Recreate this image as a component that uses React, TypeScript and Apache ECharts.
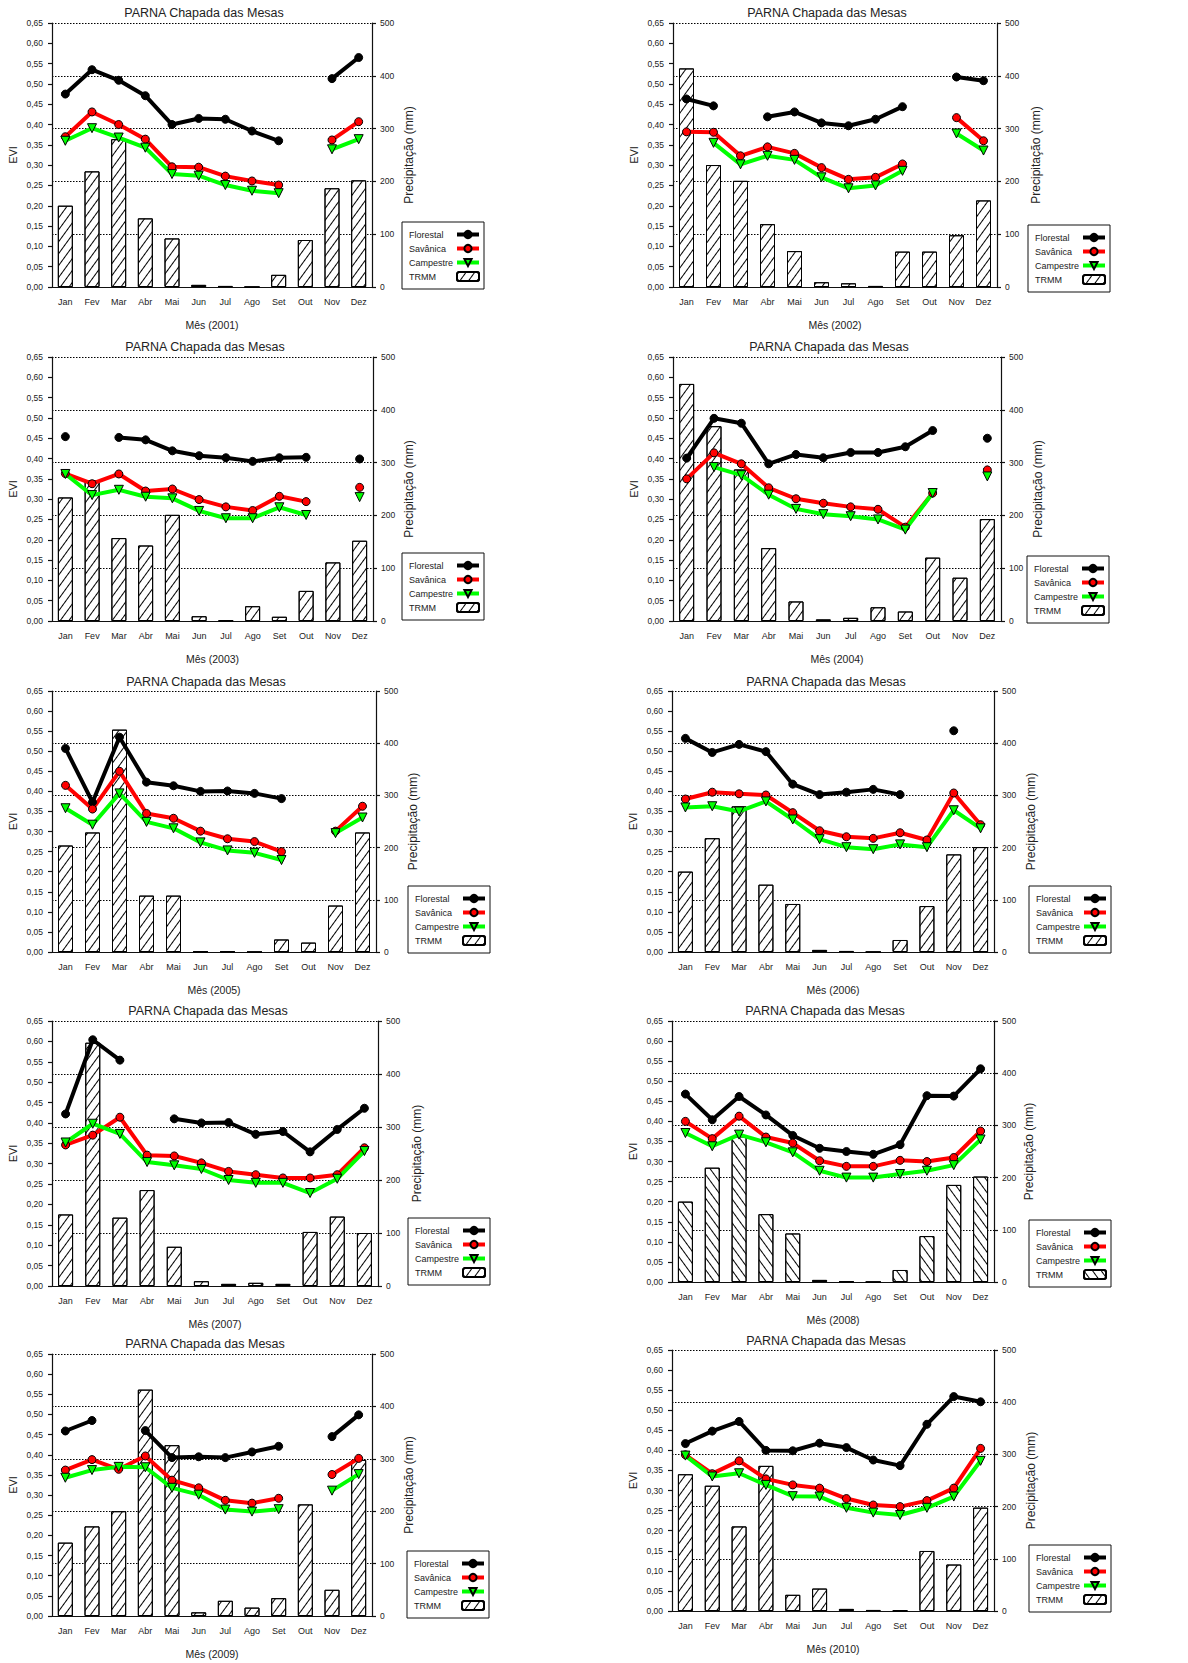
import React, { useEffect, useRef } from 'react';
import * as echarts from 'echarts';

const months = ['Jan', 'Fev', 'Mar', 'Abr', 'Mai', 'Jun', 'Jul', 'Ago', 'Set', 'Out', 'Nov', 'Dez'];
const seriesNames = ['Florestal', 'Savânica', 'Campestre', 'TRMM'];
const chartTitle = 'PARNA Chapada das Mesas';

const florestal2001 = [0.475, 0.535, 0.509, 0.471, 0.400, 0.415, 0.413, 0.384, 0.360, null, 0.513, 0.565];
const savanica2001 = [0.370, 0.431, 0.400, 0.364, 0.296, 0.295, 0.273, 0.261, 0.251, null, 0.362, 0.407];
const campestre2001 = [0.360, 0.391, 0.368, 0.343, 0.278, 0.274, 0.251, 0.237, 0.231, null, 0.339, 0.364];
const trmm2001 = [154, 219, 280, 130, 92, 4, 2, 0, 23, 89, 187, 202];

const florestal2002 = [0.463, 0.446, null, 0.419, 0.431, 0.404, 0.397, 0.413, 0.444, null, 0.517, 0.508];
const savanica2002 = [0.382, 0.381, 0.323, 0.345, 0.329, 0.294, 0.265, 0.270, 0.303, null, 0.417, 0.360];
const campestre2002 = [null, 0.355, 0.302, 0.323, 0.313, 0.270, 0.243, 0.250, 0.286, null, 0.378, 0.336];
const trmm2002 = [414, 231, 201, 119, 68, 9, 7, 2, 67, 67, 98, 164];

const florestal2003 = [0.454, null, 0.452, 0.446, 0.419, 0.407, 0.402, 0.393, 0.402, 0.403, null, 0.399];
const savanica2003 = [0.363, 0.338, 0.362, 0.320, 0.325, 0.299, 0.281, 0.272, 0.307, 0.294, null, 0.329];
const campestre2003 = [0.362, 0.310, 0.323, 0.306, 0.302, 0.271, 0.253, 0.253, 0.280, 0.261, null, 0.305];
const trmm2003 = [234, 267, 157, 143, 201, 9, 1, 28, 8, 57, 111, 152];

const florestal2004 = [0.401, 0.499, 0.487, 0.387, 0.410, 0.402, 0.415, 0.415, 0.429, 0.469, null, 0.450];
const savanica2004 = [0.350, 0.414, 0.387, 0.328, 0.301, 0.290, 0.281, 0.275, 0.231, 0.315, null, 0.372];
const campestre2004 = [null, 0.379, 0.359, 0.311, 0.276, 0.263, 0.258, 0.250, 0.225, 0.315, null, 0.356];
const trmm2004 = [449, 369, 287, 138, 37, 3, 6, 26, 18, 120, 82, 193];

const florestal2005 = [0.507, 0.373, 0.535, 0.423, 0.414, 0.400, 0.401, 0.395, 0.382, null, null, null];
const savanica2005 = [0.415, 0.356, 0.450, 0.345, 0.333, 0.301, 0.282, 0.275, 0.250, null, 0.301, 0.363];
const campestre2005 = [0.358, 0.317, 0.395, 0.324, 0.308, 0.273, 0.253, 0.247, 0.229, null, 0.296, 0.335];
const trmm2005 = [204, 229, 426, 108, 108, 1, 1, 0, 24, 18, 89, 229];

const florestal2006 = [0.532, 0.497, 0.517, 0.499, 0.418, 0.392, 0.398, 0.405, 0.392, null, 0.551, null];
const savanica2006 = [0.381, 0.398, 0.394, 0.391, 0.347, 0.302, 0.287, 0.283, 0.297, 0.279, 0.396, 0.317];
const campestre2006 = [0.360, 0.363, 0.350, 0.375, 0.330, 0.281, 0.261, 0.256, 0.268, 0.261, 0.353, 0.308];
const trmm2006 = [154, 218, 279, 129, 92, 4, 2, 0, 23, 88, 187, 201];

const florestal2007 = [0.422, 0.604, 0.554, null, 0.410, 0.400, 0.401, 0.372, 0.379, 0.329, 0.384, 0.436];
const savanica2007 = [0.346, 0.370, 0.414, 0.321, 0.319, 0.302, 0.281, 0.273, 0.265, 0.265, 0.273, 0.339];
const campestre2007 = [0.352, 0.398, 0.373, 0.304, 0.296, 0.287, 0.260, 0.253, 0.253, 0.228, 0.263, 0.331];
const trmm2007 = [135, 459, 129, 181, 74, 9, 4, 6, 4, 102, 131, 100];

const florestal2008 = [0.468, 0.404, 0.462, 0.416, 0.365, 0.333, 0.325, 0.318, 0.342, 0.464, 0.463, 0.531];
const savanica2008 = [0.400, 0.357, 0.413, 0.361, 0.346, 0.302, 0.288, 0.288, 0.303, 0.300, 0.310, 0.376];
const campestre2008 = [0.371, 0.338, 0.367, 0.348, 0.323, 0.277, 0.260, 0.260, 0.269, 0.277, 0.291, 0.355];
const trmm2008 = [154, 219, 279, 130, 93, 4, 1, 0, 23, 88, 186, 202];

const florestal2009 = [0.459, 0.485, null, 0.460, 0.393, 0.395, 0.393, 0.407, 0.421, null, 0.445, 0.499];
const savanica2009 = [0.362, 0.388, 0.364, 0.397, 0.337, 0.318, 0.287, 0.280, 0.292, null, 0.351, 0.391];
const campestre2009 = [0.343, 0.362, 0.370, 0.369, 0.318, 0.301, 0.264, 0.259, 0.265, null, 0.311, 0.352];
const trmm2009 = [140, 171, 200, 432, 326, 7, 29, 16, 34, 213, 50, 298];

const florestal2010 = [0.417, 0.448, 0.472, 0.400, 0.399, 0.418, 0.407, 0.376, 0.362, 0.465, 0.534, 0.521];
const savanica2010 = [0.389, 0.342, 0.374, 0.329, 0.314, 0.306, 0.280, 0.264, 0.260, 0.275, 0.306, 0.405];
const campestre2010 = [0.387, 0.335, 0.343, 0.314, 0.286, 0.285, 0.257, 0.245, 0.239, 0.257, 0.285, 0.374];
const trmm2010 = [262, 240, 162, 278, 31, 43, 4, 2, 1, 115, 89, 198];

const panels = [
  { year: '2001', f: florestal2001, s: savanica2001, c: campestre2001, t: trmm2001 },
  { year: '2002', f: florestal2002, s: savanica2002, c: campestre2002, t: trmm2002 },
  { year: '2003', f: florestal2003, s: savanica2003, c: campestre2003, t: trmm2003 },
  { year: '2004', f: florestal2004, s: savanica2004, c: campestre2004, t: trmm2004 },
  { year: '2005', f: florestal2005, s: savanica2005, c: campestre2005, t: trmm2005 },
  { year: '2006', f: florestal2006, s: savanica2006, c: campestre2006, t: trmm2006 },
  { year: '2007', f: florestal2007, s: savanica2007, c: campestre2007, t: trmm2007 },
  { year: '2008', f: florestal2008, s: savanica2008, c: campestre2008, t: trmm2008 },
  { year: '2009', f: florestal2009, s: savanica2009, c: campestre2009, t: trmm2009 },
  { year: '2010', f: florestal2010, s: savanica2010, c: campestre2010, t: trmm2010 },
];

// layout (pixels)
const layout = [
  { l: 52, r: 372, t: 23, b: 287, tx: 204, ty: 13, lgL: 402, lgT: 222, pg: 31, back: false },
  { l: 673, r: 997, t: 23, b: 287, tx: 827, ty: 13, lgL: 1028, lgT: 225, pg: 33, back: false },
  { l: 52, r: 373, t: 357, b: 621, tx: 205, ty: 347, lgL: 402, lgT: 553, pg: 30, back: false },
  { l: 673, r: 1001, t: 357, b: 621, tx: 829, ty: 347, lgL: 1027, lgT: 556, pg: 31, back: false },
  { l: 52, r: 376, t: 691, b: 952, tx: 206, ty: 682, lgL: 408, lgT: 886, pg: 31, back: false },
  { l: 672, r: 994, t: 691, b: 952, tx: 826, ty: 682, lgL: 1029, lgT: 886, pg: 31, back: false },
  { l: 52, r: 378, t: 1021, b: 1286, tx: 208, ty: 1011, lgL: 408, lgT: 1218, pg: 33, back: false },
  { l: 672, r: 994, t: 1021, b: 1282, tx: 825, ty: 1011, lgL: 1029, lgT: 1220, pg: 29, back: true },
  { l: 52, r: 372, t: 1354, b: 1616, tx: 205, ty: 1344, lgL: 407, lgT: 1551, pg: 31, back: false },
  { l: 672, r: 994, t: 1350, b: 1611, tx: 826, ty: 1341, lgL: 1029, lgT: 1545, pg: 31, back: false },
];

const FONT = "'Liberation Sans', Arial, Helvetica, sans-serif";
const TXT = '#222';

// "/" hatch by default, "\" hatch for the 2008 panel
const hatch = (back: boolean) => ({
  symbol: 'rect',
  symbolSize: 1,
  dashArrayX: [1, 0],
  dashArrayY: [1, 6],
  rotation: back ? Math.PI * 0.3 : -Math.PI * 0.3,
  color: '#000',
  backgroundColor: '#fff',
});

function buildOption() {
  const grid: any[] = [];
  const xAxis: any[] = [];
  const yAxis: any[] = [];
  const series: any[] = [];
  const legend: any[] = [];
  const title: any[] = [];
  const axisLineStyle = { color: '#111', width: 1.2 };

  panels.forEach((p, i) => {
    const L = layout[i];
    grid.push({ left: L.l, top: L.t, width: L.r - L.l, height: L.b - L.t, containLabel: false });
    title.push({
      text: chartTitle,
      left: L.tx,
      top: L.ty,
      textAlign: 'center',
      textVerticalAlign: 'middle',
      padding: 0,
      textStyle: { fontSize: 12.5, fontWeight: 'normal', color: TXT, fontFamily: FONT },
    });
    xAxis.push({
      gridIndex: i,
      type: 'category',
      data: months,
      axisTick: { show: false },
      axisLine: { lineStyle: axisLineStyle },
      axisLabel: { fontSize: 9, color: TXT, margin: 10, fontFamily: FONT, interval: 0 },
      splitLine: { show: false },
      name: 'Mês (' + p.year + ')',
      nameLocation: 'middle',
      nameGap: 32,
      nameTextStyle: { fontSize: 10.5, color: TXT, fontFamily: FONT },
    });
    yAxis.push({
      gridIndex: i,
      type: 'value',
      position: 'left',
      min: 0,
      max: 0.65,
      interval: 0.05,
      axisLine: { show: true, lineStyle: axisLineStyle },
      axisTick: { show: true, length: 4, lineStyle: axisLineStyle },
      axisLabel: {
        fontSize: 8.5,
        color: TXT,
        margin: 9,
        fontFamily: FONT,
        formatter: (v: number) => v.toFixed(2).replace('.', ','),
      },
      splitLine: { show: false },
      name: 'EVI',
      nameLocation: 'middle',
      nameGap: 34,
      nameRotate: 90,
      nameTextStyle: { fontSize: 11, color: TXT, fontFamily: FONT },
    });
    yAxis.push({
      gridIndex: i,
      type: 'value',
      position: 'right',
      min: 0,
      max: 500,
      interval: 100,
      axisLine: { show: true, lineStyle: axisLineStyle },
      axisTick: { show: true, length: 4, lineStyle: axisLineStyle },
      axisLabel: { fontSize: 8.5, color: TXT, margin: 8, fontFamily: FONT },
      splitLine: { show: true, lineStyle: { type: [1.5, 1.5], color: '#000', width: 1 } },
      name: 'Precipitação (mm)',
      nameLocation: 'middle',
      nameGap: L.pg,
      nameRotate: 90,
      nameTextStyle: { fontSize: 12, color: TXT, fontFamily: FONT },
    });

    series.push({
      type: 'bar',
      name: 'TRMM',
      xAxisIndex: i,
      yAxisIndex: 2 * i + 1,
      data: p.t,
      barWidth: 15,
      itemStyle: { color: '#fff', borderColor: '#000', borderWidth: 1, decal: hatch(L.back) },
      z: 1,
    });
    const lineDefs = [
      { name: 'Florestal', data: p.f, color: '#000', symbol: 'circle', size: 8, rot: 0 },
      { name: 'Savânica', data: p.s, color: '#ff0000', symbol: 'circle', size: 8, rot: 0 },
      { name: 'Campestre', data: p.c, color: '#00ff00', symbol: 'triangle', size: 9, rot: 180 },
    ];
    lineDefs.forEach((d) => {
      series.push({
        type: 'line',
        name: d.name,
        xAxisIndex: i,
        yAxisIndex: 2 * i,
        data: d.data,
        symbol: d.symbol,
        symbolSize: d.size,
        symbolRotate: d.rot,
        showSymbol: true,
        showAllSymbol: true,
        connectNulls: false,
        lineStyle: { color: d.color, width: 4 },
        itemStyle: { color: d.color, borderColor: '#000', borderWidth: 1 },
        emphasis: { disabled: true },
        z: 3,
      });
    });

    legend.push({
      left: L.lgL,
      top: L.lgT,
      orient: 'vertical',
      align: 'right',
      data: seriesNames.map((n) => {
        if (n === 'TRMM') return { name: n, itemStyle: { decal: hatch(L.back) } };
        return n;
      }),
      formatter: (name: string) => '{t|' + name + '}',
      itemWidth: 22,
      itemHeight: 9,
      itemGap: 3,
      padding: [7, 3, 7, 7],
      borderColor: '#111',
      borderWidth: 1,
      borderRadius: 0,
      backgroundColor: '#fff',
      selectedMode: false,
      lineStyle: { width: 4 },
      textStyle: {
        fontSize: 9,
        color: TXT,
        fontFamily: FONT,
        lineHeight: 11,
        rich: {
          t: { width: 43, align: 'left', fontSize: 9, color: TXT, fontFamily: FONT, lineHeight: 11 },
        },
      },
    });
  });

  return {
    animation: false,
    backgroundColor: '#fff',
    textStyle: { fontFamily: FONT },
    title,
    grid,
    xAxis,
    yAxis,
    legend,
    series,
  };
}

export default function App() {
  const ref = useRef<HTMLDivElement>(null);
  useEffect(() => {
    if (!ref.current) return;
    const chart = echarts.init(ref.current, undefined, { renderer: 'svg' });
    chart.setOption(buildOption() as any);
    return () => chart.dispose();
  }, []);
  return (
    <div
      ref={ref}
      style={{ position: 'absolute', left: 0, top: 0, width: 1188, height: 1663, background: '#fff' }}
    />
  );
}
